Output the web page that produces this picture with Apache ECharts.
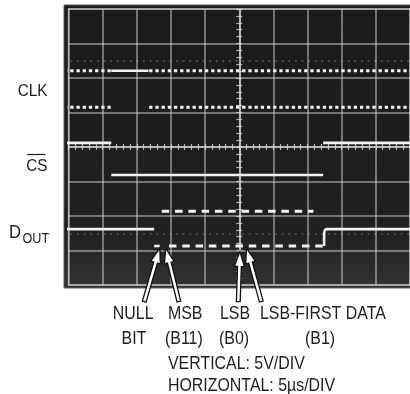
<!DOCTYPE html>
<html>
<head>
<meta charset="utf-8">
<script src="https://cdn.jsdelivr.net/npm/echarts@6/dist/echarts.min.js"></script>
<style>
html, body { margin: 0; padding: 0; background: #fff; }
#main { width: 410px; height: 394px; }
</style>
</head>
<body>
<div id="main"></div>
<script>
// scope screen: time in µs from the trigger (5µs/div), level in divisions from centre (5V/div)
const timeTicks = [-25, -20, -15, -10, -5, 0, 5, 10, 15, 20, 25];
const levelTicks = [-4, -3, -2, -1, 0, 1, 2, 3, 4];

// CLK
const clkHighDots1 = [[-25.65, 2.21], [-18.74, 2.21]];
const clkHighSolid = [[-18.74, 2.21], [-13.29, 2.21]];
const clkHighDots2 = [[-13.19, 2.21], [25, 2.21]];
const clkLowDots1 = [[-25.65, 1.15], [-18.74, 1.15]];
const clkLowDots2 = [[-13.19, 1.15], [25, 1.15]];
const clkGhost = [[-25.65, 2.49], [25, 2.49]];

// CS (active low)
const csHigh1 = [[-25.65, 0.12], [-18.74, 0.12]];
const csLow = [[-18.74, -0.81], [12.28, -0.81]];
const csHigh2 = [[12.28, 0.12], [25, 0.12]];

// DOUT
const doutHigh1 = [[-25.65, -2.38], [-12.46, -2.38]];
const doutNull = [[-12.46, -2.87], [-11.64, -2.87]];
const doutLowBits = [[-10.29, -2.87], [12.42, -2.87]];
const doutHighBits = [[-11.35, -1.86], [10.87, -1.86]];
const doutHigh2 = [[12.42, -2.87], [12.44, -2.5], [12.55, -2.41], [12.8, -2.38], [25, -2.38]];
const doutGhost = [[-25.65, -2.52], [25, -2.52]];

// arrows: tail time, tail level, tip time, tip level
const arrows = [
  [-13.91, -4.48, -11.64, -2.93], // NULL BIT
  [-8.84, -4.48, -10.77, -2.93],  // MSB (B11)
  [-0.14, -4.48, 0.10, -3.03],    // LSB (B0)
  [3.23, -4.48, 1.06, -2.93]      // LSB-FIRST DATA (B1)
];

const chart = echarts.init(document.getElementById("main"));

const traceColor = "#f2f2f2";
const dots = { color: traceColor, width: 3, type: [3.3, 2.9] };
const solid = { color: traceColor, width: 2.6, type: "solid" };
const dashes = { color: traceColor, width: 3, type: [7.5, 5.8] };
const ghost = { color: "rgba(255,255,255,0.28)", width: 1.6, type: [1.6, 5] };
const gridColor = "rgba(210,210,210,0.65)";

function trace(data, lineStyle) {
  return {
    type: "line",
    data: data,
    showSymbol: false,
    clip: false,
    silent: true,
    animation: false,
    lineStyle: lineStyle,
    z: 5
  };
}

// condensed look: regular sans squeezed horizontally
function txt(text, x, y, size, align, squeeze) {
  return {
    type: "text",
    z: 10,
    x: x,
    y: y,
    scaleX: squeeze || 0.86,
    style: {
      text: text,
      x: 0,
      y: 0,
      font: size + "px 'Liberation Sans', Arial, sans-serif",
      fill: "#1e1e1e",
      textAlign: align || "left",
      textVerticalAlign: "middle"
    }
  };
}

const tickAxis = {
  type: "value",
  axisLine: { show: true, onZero: true, lineStyle: { color: gridColor, width: 1.5 } },
  axisTick: { show: true, length: 3, lineStyle: { color: "rgba(215,215,215,0.8)", width: 1.2 } },
  minorTick: { show: true, splitNumber: 5, length: 3, lineStyle: { color: "rgba(215,215,215,0.8)", width: 1.2 } },
  axisLabel: { show: false },
  splitLine: { show: false }
};

chart.setOption({
  animation: false,
  grid: {
    left: 68.5, top: 9, width: 345, height: 276,
    show: true,
    borderColor: gridColor,
    borderWidth: 1.5,
    backgroundColor: "transparent"
  },
  xAxis: [
    Object.assign({}, tickAxis, {
      min: timeTicks[0], max: timeTicks[timeTicks.length - 1],
      interval: timeTicks[1] - timeTicks[0],
      splitLine: { show: true, lineStyle: { color: gridColor, width: 1.5 } }
    }),
    Object.assign({}, tickAxis, {
      min: timeTicks[0], max: timeTicks[timeTicks.length - 1],
      interval: timeTicks[1] - timeTicks[0]
    })
  ],
  yAxis: [
    Object.assign({}, tickAxis, {
      min: levelTicks[0], max: levelTicks[levelTicks.length - 1],
      interval: levelTicks[1] - levelTicks[0],
      splitLine: { show: true, lineStyle: { color: gridColor, width: 1.5 } }
    }),
    Object.assign({}, tickAxis, {
      min: levelTicks[0], max: levelTicks[levelTicks.length - 1],
      interval: levelTicks[1] - levelTicks[0]
    })
  ],
  graphic: [
    {
      type: "rect",
      z: -10,
      shape: { x: 64, y: 5, width: 350, height: 283 },
      style: {
        fill: new echarts.graphic.LinearGradient(0, 0, 0, 1, [
          { offset: 0, color: "#1b1b1b" },
          { offset: 0.8, color: "#202020" },
          { offset: 1, color: "#333333" }
        ]),
        stroke: "#5a5a5a",
        lineWidth: 1
      }
    },
    txt("CLK", 47.5, 91, 17, "right", 0.9),
    txt("CS", 47.5, 166, 17, "right", 0.9),
    { type: "line", z: 10, shape: { x1: 27, y1: 154.5, x2: 45.5, y2: 154.5 }, style: { stroke: "#1e1e1e", lineWidth: 1.2 } },
    txt("D", 21, 232.5, 18.5, "right", 0.9),
    txt("OUT", 22.5, 239, 14, "left", 0.9),
    txt("NULL", 153.5, 314, 18.5, "right"),
    txt("BIT", 134, 339, 18.5, "center"),
    txt("MSB", 168, 314, 18.5),
    txt("(B11)", 165, 339, 18.5),
    txt("LSB", 220, 314, 18.5),
    txt("(B0)", 219, 339, 18.5),
    txt("LSB-FIRST DATA", 260, 314, 18.5),
    txt("(B1)", 305, 339, 18.5),
    txt("VERTICAL: 5V/DIV", 168, 363.5, 18.5),
    txt("HORIZONTAL: 5\u00b5s/DIV", 168, 386, 18.5)
  ],
  series: [
    trace(clkGhost, ghost),
    trace(doutGhost, ghost),
    trace(clkHighDots1, dots),
    trace(clkHighSolid, solid),
    trace(clkHighDots2, dots),
    trace(clkLowDots1, dots),
    trace(clkLowDots2, dots),
    trace(csHigh1, solid),
    trace(csLow, solid),
    trace(csHigh2, solid),
    trace(doutHigh1, solid),
    trace(doutNull, solid),
    trace(doutLowBits, dashes),
    trace(doutHighBits, dashes),
    Object.assign(trace(doutHigh2, solid), { smooth: 0.3 }),
    {
      type: "custom",
      data: arrows,
      clip: false,
      silent: true,
      z: 8,
      encode: { x: [0, 2], y: [1, 3] },
      renderItem: function (params, api) {
        const a = api.coord([api.value(0), api.value(1)]);
        const b = api.coord([api.value(2), api.value(3)]);
        const dx = b[0] - a[0], dy = b[1] - a[1];
        const len = Math.sqrt(dx * dx + dy * dy);
        const ux = dx / len, uy = dy / len;
        const nx = -uy, ny = ux;
        const w = 1.9, hw = 5, hl = 15;
        const neck = [b[0] - ux * hl, b[1] - uy * hl];
        const pts = [
          [a[0] + nx * w, a[1] + ny * w],
          [neck[0] + nx * w, neck[1] + ny * w],
          [neck[0] + nx * hw, neck[1] + ny * hw],
          b,
          [neck[0] - nx * hw, neck[1] - ny * hw],
          [neck[0] - nx * w, neck[1] - ny * w],
          [a[0] - nx * w, a[1] - ny * w]
        ];
        return {
          type: "polygon",
          shape: { points: pts },
          style: { fill: "#ffffff", stroke: "#111111", lineWidth: 1.3 }
        };
      }
    }
  ]
});
</script>
</body>
</html>
